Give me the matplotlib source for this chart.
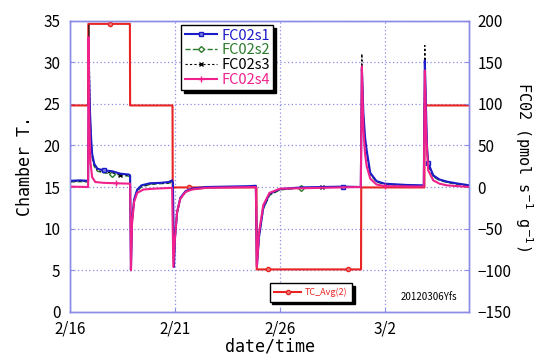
import numpy as np
import matplotlib.pyplot as plt
from matplotlib.lines import Line2D

# time axis in days from 2/16 00:00
day_ticks = [0, 5, 10, 15]
day_labels = ['2/16', '2/21', '2/26', '3/2']

# chamber temperature TC_Avg(2), step changes
tc_t = [0, 0.86, 0.87, 1.9, 2.85, 2.86, 4.88, 4.89, 5.67, 8.88, 8.89, 9.44, 13.24,
        13.86, 13.87, 16.88, 16.89, 19]
tc_v = [24.8, 24.8, 34.6, 34.6, 34.6, 24.8, 24.8, 14.95, 14.95, 14.95, 5.1, 5.1, 5.1,
        5.1, 14.95, 14.95, 24.8, 24.8]

# FCO2 series, read at key points
s1_t = [0, 0.5, 0.84, 0.86, 0.9, 0.95, 1.0, 1.05, 1.15, 1.3, 1.6, 2.0, 2.4, 2.8, 2.86,
        2.9, 2.95, 3.05, 3.2, 3.4, 3.8, 4.3, 4.7, 4.86, 4.9, 4.95, 5.0, 5.1, 5.25, 5.5,
        5.8, 6.5, 7.5, 8.5, 8.85, 8.9, 9.0, 9.2, 9.5, 10.0, 11, 12, 13, 13.85, 13.9,
        13.97, 14.05, 14.13, 14.3, 14.6, 15, 16, 16.85, 16.9, 16.95, 17.0, 17.06, 17.3,
        17.6, 17.95, 18.5, 18.9, 19]
s1_v = [7.5, 8, 7.5, 7, 140, 90, 60, 40, 28, 22, 20, 19, 16, 15, 14,
        -100, -40, -15, -3, 2, 4.5, 5, 6, 8, 5, -96, -60, -30, -13, -5,
        -2, 0, 0.5, 1, 1.5, -95, -60, -25, -8, -2.5, -0.5, 0, 0.5, 0, 142,
        90, 60, 44, 17, 7, 4, 2.5, 2, 152, 100, 50, 29, 14,
        9, 6.5, 4, 2.5, 2]
s2_v = [6, 6.5, 6, 6, 130, 85, 55, 36, 25, 19, 17, 16, 14, 13, 12,
        -98, -42, -17, -5, 0, 3, 4, 4.5, 6, 4, -94, -62, -32, -15, -6,
        -3, -1, 0, 0.5, 1, -93, -62, -27, -10, -3.5, -1, -0.5, 0, -0.5, 138,
        85, 55, 40, 15, 6, 3, 2, 1.5, 145, 95, 45, 26, 12,
        8, 5.5, 3, 2, 1.5]
s3_v = [6.5, 7, 6.5, 6, 195, 95, 58, 38, 26, 20, 18, 17, 15, 14, 13,
        -99, -41, -16, -4, 1, 3.5, 4.5, 5, 7, 4.5, -95, -61, -31, -14, -5.5,
        -2.5, -0.5, 0, 0.5, 1, -94, -61, -26, -9, -3, -1, -0.5, 0, 0, 160,
        88, 58, 42, 16, 6.5, 3.5, 2, 1.5, 170, 98, 48, 27, 13,
        8.5, 6, 3.5, 2, 1.5]
s4_t = [0, 0.84, 0.86, 0.88, 0.92, 0.97, 1.05, 1.2, 1.6, 2.2, 2.86, 2.9, 2.95, 3.05,
        3.2, 3.5, 4, 4.86, 4.92, 5.0, 5.1, 5.25, 5.5, 5.8, 6.5, 8.85, 8.9, 9.0, 9.2,
        9.5, 10, 13.85, 13.9, 13.97, 14.05, 14.13, 14.3, 14.6, 15, 16.85, 16.9, 16.97,
        17.06, 17.3, 17.6, 17.95, 18.5, 19]
s4_v = [0.5, 0, 0, 180, 80, 30, 12, 6, 5, 4.5, 4, -100, -45, -18,
        -7, -3, -2, -1, -96, -60, -30, -14, -6, -3, -1, 0, -96, -55, -22,
        -7, -2, 0, 145, 70, 40, 25, 10, 3, 1, 0.5, 140, 60,
        20, 8, 4, 2, 1, 0]

c_blue = '#1c1cc8'
c_green = '#2a7a2a'
c_pink = '#f0208c'
c_red = '#e82424'
c_frame = '#8c8ce6'

plt.rcParams['font.family'] = ['Noto Sans CJK JP', 'DejaVu Sans']

fig = plt.figure(figsize=(5.39, 3.54), dpi=100)
ax = fig.add_axes([0.130, 0.119, 0.740, 0.823])
ax2 = ax.twinx()

ax.plot(tc_t, tc_v, color=c_red, lw=1.5, marker='o', ms=3, mfc='#f08080',
        markevery=[3, 8, 11, 12], label='TC_Avg(2)')

ax2.plot(s1_t, s2_v, color=c_green, lw=1.0, ls='--', marker='D', ms=3, mfc='white',
         markevery=[11, 40], label='FC02s2')
ax2.plot(s1_t, s3_v, color='black', lw=0.8, ls=(0, (2, 2)), marker='x', ms=3,
         markevery=[12, 41], label='FC02s3')
ax2.plot(s1_t, s1_v, color=c_blue, lw=1.5, marker='s', ms=3.5, mfc='#8080e0',
         markevery=[10, 42, 56], label='FC02s1')
ax2.plot(s4_t, s4_v, color=c_pink, lw=1.5, marker='+', ms=4,
         markevery=[9, 38], label='FC02s4')

ax.set_xlim(0, 19)
ax.set_ylim(0, 35)
ax2.set_ylim(-150, 200)
ax.set_xticks(day_ticks)
ax.set_xticklabels(day_labels)
ax.set_yticks(np.arange(0, 36, 5))
ax2.set_yticks(np.arange(-150, 201, 50))
ax2.set_yticklabels(['\u2212150', '\u2212100', '\u221250', '0', '50', '100', '150', '200'])

ax.grid(True, color=c_frame, ls=(0, (1, 2)), lw=0.9)
for a in (ax, ax2):
    for sp in a.spines.values():
        sp.set_color(c_frame)
        sp.set_linewidth(1.0)
    a.tick_params(colors=c_frame, labelcolor='black', labelsize=11, length=3,
                  direction='in')
ax.tick_params(axis='x', pad=6)
ax.tick_params(axis='y', pad=7)
ax2.tick_params(axis='y', pad=6)

ax.set_ylabel('Chamber T.', family='DejaVu Sans Mono', fontsize=12, labelpad=7)
ax.set_xlabel('date/time', family='DejaVu Sans Mono', fontsize=12, labelpad=0)
ax2.set_ylabel('FC02 (pmol s$^{-1}$ g$^{-1}$)', family='DejaVu Sans Mono',
               fontsize=11, rotation=270, labelpad=17)

handles = [Line2D([], [], color=c_blue, lw=1.5, marker='s', ms=3.5, mfc='#8080e0'),
           Line2D([], [], color=c_green, lw=1.0, ls='--', marker='D', ms=3, mfc='white'),
           Line2D([], [], color='black', lw=0.8, ls=(0, (2, 2)), marker='x', ms=3),
           Line2D([], [], color=c_pink, lw=1.5, marker='+', ms=4)]
leg = ax2.legend(handles, ['FC02s1', 'FC02s2', 'FC02s3', 'FC02s4'],
                 loc='upper left', bbox_to_anchor=(0.278, 0.985), fontsize=10.5,
                 labelspacing=0.05, handlelength=2.2, handletextpad=0.3,
                 borderpad=0.25, borderaxespad=0, fancybox=False,
                 framealpha=1, edgecolor='black',
                 shadow={'color': 'black', 'alpha': 1})
leg.get_frame().set_linewidth(1.0)
for txt, col in zip(leg.get_texts(), [c_blue, c_green, 'black', c_pink]):
    txt.set_color(col)

leg2 = ax2.legend(handles=[Line2D([], [], color=c_red, lw=1.5, marker='o', ms=3,
                                  mfc='#f08080')],
                  labels=['TC_Avg(2)'], loc='lower left',
                  bbox_to_anchor=(0.5, 0.035), fontsize=6.5, handlelength=3,
                  handletextpad=0.4, borderpad=0.5, borderaxespad=0,
                  fancybox=False, framealpha=1, edgecolor='black',
                  shadow={'color': 'black', 'alpha': 1})
leg2.get_texts()[0].set_color(c_red)
ax2.add_artist(leg)

ax.text(0.9, 0.05, '20120306Yfs', transform=ax.transAxes, fontsize=7,
        ha='center', va='center', zorder=5)

fig.savefig('out.png', dpi=100)
